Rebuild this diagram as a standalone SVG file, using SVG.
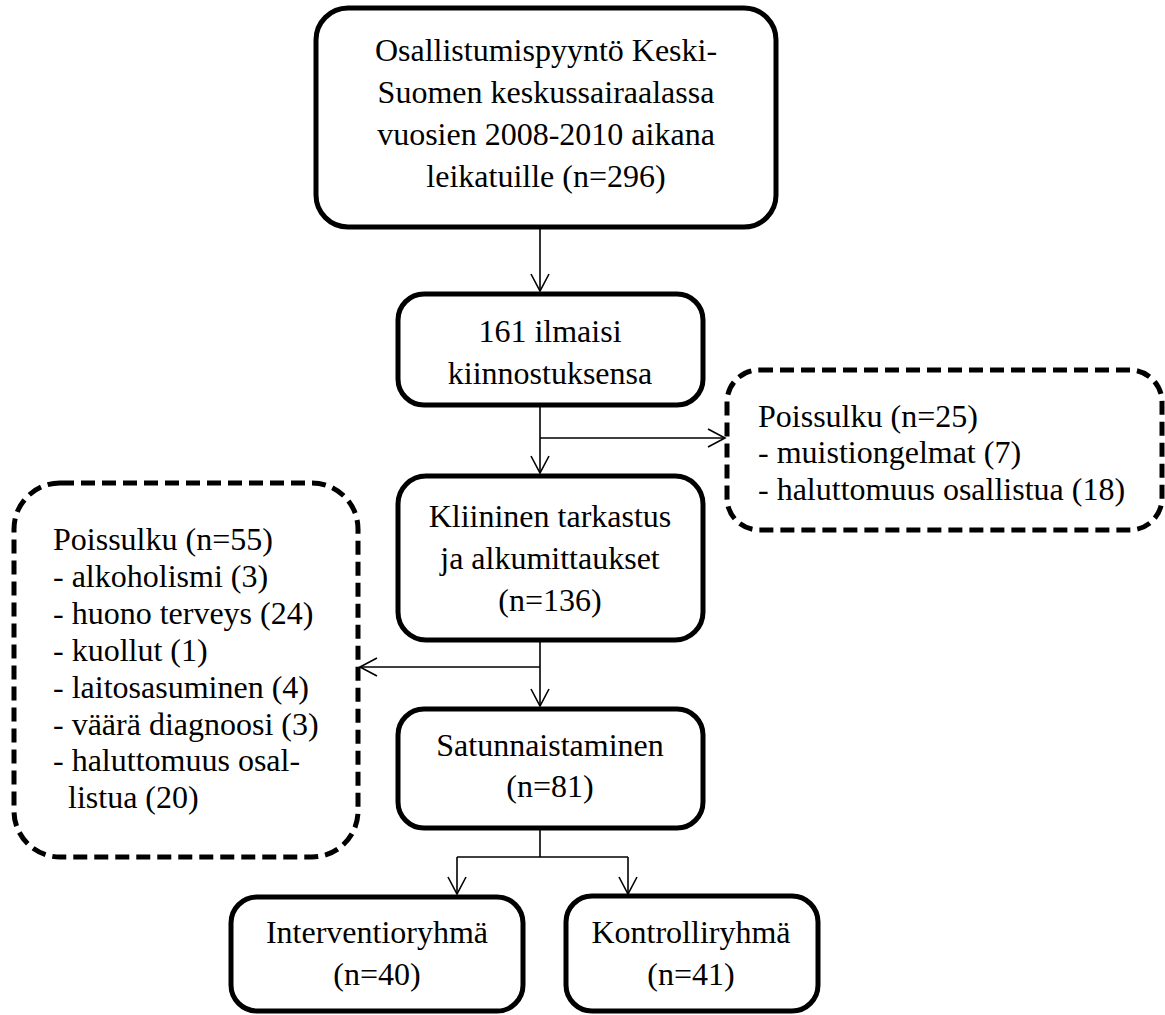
<svg xmlns="http://www.w3.org/2000/svg" width="1165" height="1015" viewBox="0 0 1165 1015">
<style>
.t{font-family:'Liberation Serif','Times New Roman',Times,'DejaVu Serif',serif;font-size:32px;fill:#000}
.c{text-anchor:middle}
.box{fill:#fff;stroke:#000;stroke-width:5}
.dash{fill:#fff;stroke:#000;stroke-width:5;stroke-dasharray:14 7}
.con{fill:none;stroke:#000;stroke-width:1.6}
</style>
<defs>
<marker id="arr" markerUnits="userSpaceOnUse" markerWidth="24" markerHeight="24" viewBox="-20 -12 24 24" refX="0" refY="0" orient="auto">
<path d="M-17,-9 L0,0 L-17,9" fill="none" stroke="#000" stroke-width="1.6"/>
</marker>
</defs>
<rect width="1165" height="1015" fill="#fff"/>
<g id="connectors">
<path class="con" d="M540,228 V291" marker-end="url(#arr)"/>
<path class="con" d="M540,407 V473" marker-end="url(#arr)"/>
<path class="con" d="M540,438 H725" marker-end="url(#arr)"/>
<path class="con" d="M540,642 V706" marker-end="url(#arr)"/>
<path class="con" d="M540,667 H360" marker-end="url(#arr)"/>
<path class="con" d="M540,830 V857"/>
<path class="con" d="M457,857 H628"/>
<path class="con" d="M457,857 V894" marker-end="url(#arr)"/>
<path class="con" d="M628,857 V894" marker-end="url(#arr)"/>
</g>
<g class="t" font-family="Liberation Serif, serif" font-size="32">
<g id="n1">
<rect class="box" x="316" y="8" width="460" height="219" rx="32"/>
<text class="c" x="546" y="61">Osallistumispyyntö Keski-</text>
<text class="c" x="546" y="103">Suomen keskussairaalassa</text>
<text class="c" x="546" y="145">vuosien 2008-2010 aikana</text>
<text class="c" x="546" y="187">leikatuille (n=296)</text>
</g>
<g id="n2">
<rect class="box" x="398" y="294" width="305" height="111" rx="26"/>
<text class="c" x="550" y="342">161 ilmaisi</text>
<text class="c" x="550" y="384">kiinnostuksensa</text>
</g>
<g id="n3">
<rect class="box" x="398" y="476" width="305" height="164" rx="28"/>
<text class="c" x="550" y="527">Kliininen tarkastus</text>
<text class="c" x="550" y="569">ja alkumittaukset</text>
<text class="c" x="550" y="611">(n=136)</text>
</g>
<g id="n4">
<rect class="box" x="398" y="709" width="305" height="119" rx="26"/>
<text class="c" x="550" y="756">Satunnaistaminen</text>
<text class="c" x="550" y="797">(n=81)</text>
</g>
<g id="n5">
<rect class="box" x="231" y="897" width="292" height="114" rx="26"/>
<text class="c" x="377" y="943">Interventioryhmä</text>
<text class="c" x="377" y="985">(n=40)</text>
</g>
<g id="n6">
<rect class="box" x="566" y="896" width="252" height="115" rx="26"/>
<text class="c" x="691" y="943">Kontrolliryhmä</text>
<text class="c" x="691" y="985">(n=41)</text>
</g>
<g id="n7">
<rect class="dash" x="727" y="370" width="435" height="160" rx="32"/>
<text x="758" y="427">Poissulku (n=25)</text>
<text x="758" y="463">- muistiongelmat (7)</text>
<text x="758" y="500">- haluttomuus osallistua (18)</text>
</g>
<g id="n8">
<rect class="dash" x="14" y="483" width="344" height="374" rx="46"/>
<text x="53" y="550">Poissulku (n=55)</text>
<text x="53" y="587">- alkoholismi (3)</text>
<text x="53" y="624">- huono terveys (24)</text>
<text x="53" y="661">- kuollut (1)</text>
<text x="53" y="698">- laitosasuminen (4)</text>
<text x="53" y="735">- väärä diagnoosi (3)</text>
<text x="53" y="771">- haluttomuus osal-</text>
<text x="68" y="808">listua (20)</text>
</g>
</g>
</svg>
